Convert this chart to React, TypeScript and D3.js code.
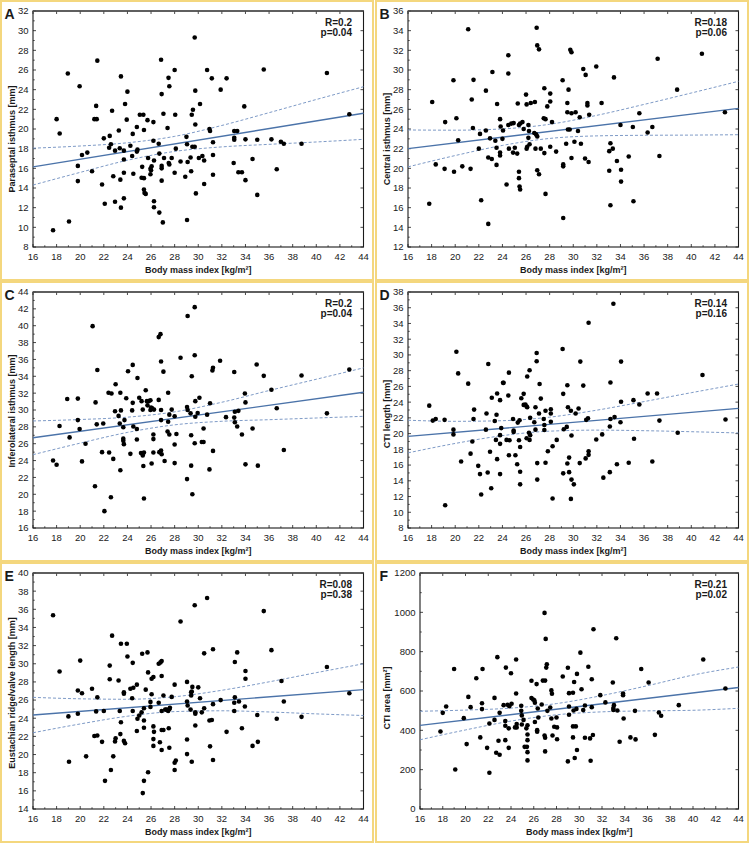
import * as d3 from 'd3';

type Pt = [number, number];

// shared x axis (BMI)
const xTicks = [16, 18, 20, 22, 24, 26, 28, 30, 32, 34, 36, 38, 40, 42, 44];
const bandX = [16, 20, 24, 28, 32, 36, 40, 44];
const xTitle = 'Body mass index [kg/m²]';

// A: paraseptal isthmus
const paraseptal: Pt[] = [[17.7,9.7],[18.0,21.0],[18.26,19.55],[18.95,25.65],[19.05,10.6],[19.8,16.25],[19.8,14.7],[19.95,24.35],[20.15,17.35],[20.6,17.6],[21.0,15.7],[21.35,22.35],[21.2,21.0],[21.4,21.0],[21.45,26.95],[21.85,14.35],[22.0,19.05],[22.08,12.4],[22.45,18.1],[22.5,19.3],[22.6,18.45],[22.7,21.85],[22.8,15.2],[22.95,12.6],[22.95,17.8],[23.27,19.85],[23.35,18.05],[23.4,14.85],[23.45,25.35],[23.45,12.0],[23.7,12.95],[23.7,15.55],[23.7,16.9],[23.7,17.8],[23.8,22.55],[23.94,20.95],[24.0,23.8],[24.25,18.3],[24.4,17.25],[24.45,19.5],[24.5,15.45],[24.8,20.2],[24.8,17.7],[24.85,17.9],[25.05,21.45],[25.25,16.15],[25.2,15.05],[25.35,21.45],[25.4,19.9],[25.4,15.0],[25.4,13.85],[25.45,13.5],[25.55,13.4],[25.7,20.9],[25.75,17.05],[26.0,15.8],[26.05,16.2],[25.95,15.95],[25.95,15.4],[26.2,20.7],[26.2,18.8],[26.25,16.8],[26.25,12.65],[26.25,12.05],[26.65,18.5],[26.7,17.5],[26.7,11.5],[26.85,27.05],[26.9,23.55],[26.9,16.25],[26.9,16.0],[26.9,14.75],[27.0,10.5],[27.05,21.55],[27.1,17.05],[27.4,20.1],[27.48,25.2],[27.55,24.35],[27.5,16.55],[27.55,16.4],[27.75,17.05],[28.0,26.0],[28.05,21.45],[28.1,18.0],[28.0,15.55],[28.5,16.7],[28.9,15.15],[29.0,19.2],[29.05,18.45],[29.1,16.65],[29.05,10.75],[29.35,17.1],[29.4,15.7],[29.45,21.45],[29.5,18.2],[29.55,21.95],[29.7,29.3],[29.7,18.2],[29.75,23.9],[29.75,20.45],[29.8,13.45],[30.05,17.05],[30.15,22.55],[30.35,17.25],[30.5,16.8],[30.5,14.4],[30.75,26.0],[30.95,20.0],[31.0,19.8],[31.15,25.15],[31.25,18.65],[31.25,17.35],[31.25,15.35],[31.9,24.0],[32.4,25.15],[33.0,16.55],[33.05,19.8],[33.05,19.1],[33.05,18.9],[33.3,19.8],[33.4,15.6],[33.7,15.6],[33.9,22.3],[34.0,18.95],[34.0,14.8],[34.6,16.95],[35.0,18.9],[35.0,13.3],[35.55,26.05],[36.2,18.95],[36.65,15.9],[37.0,18.7],[37.25,18.5],[38.75,18.5],[40.9,25.7],[42.8,21.5]];
const paraseptalFit = [16.15, 21.6];
const paraseptalUpper = [18.05, 18.27, 18.6, 19.25, 20.36, 21.66, 23.0, 24.3];
const paraseptalLower = [14.3, 15.59, 16.82, 17.72, 18.18, 18.44, 18.68, 18.95];

// B: central isthmus
const central: Pt[] = [[17.8,16.4],[18.05,26.75],[18.35,20.4],[19.15,24.7],[19.1,19.95],[19.85,28.95],[19.9,19.65],[20.1,25.1],[20.25,22.85],[20.6,20.2],[21.1,34.15],[21.3,19.95],[21.4,27.0],[21.55,29.0],[21.5,24.1],[22.0,22.0],[22.1,23.5],[22.2,16.75],[22.6,27.9],[22.6,23.85],[22.8,14.35],[22.8,21.1],[22.95,23.05],[23.1,20.95],[23.15,29.8],[23.4,22.8],[23.5,22.1],[23.5,20.35],[23.55,26.55],[23.8,21.6],[23.8,21.3],[23.8,25.0],[23.85,24.25],[24.0,23.0],[24.05,23.85],[24.35,18.35],[24.5,31.5],[24.5,29.65],[24.5,24.4],[24.55,22.0],[24.75,24.55],[24.95,24.6],[24.9,21.6],[25.05,22.1],[25.25,21.5],[25.3,26.6],[25.4,24.4],[25.5,24.55],[25.4,19.65],[25.4,19.0],[25.45,18.15],[25.5,17.85],[25.8,24.0],[25.7,24.7],[26.0,27.5],[26.05,26.5],[26.4,26.65],[26.2,24.4],[26.25,23.8],[26.2,23.1],[26.1,22.2],[26.05,22.0],[26.3,22.45],[26.75,26.75],[26.7,23.6],[26.85,23.45],[26.95,23.25],[26.8,22.0],[26.9,34.3],[26.95,32.5],[27.1,32.1],[26.95,19.8],[27.1,19.4],[27.25,22.0],[27.55,28.15],[27.5,25.1],[27.65,25.0],[27.55,21.55],[27.65,17.4],[27.8,26.3],[28.05,27.6],[28.05,26.8],[28.2,24.7],[28.05,22.2],[28.55,21.7],[29.1,28.95],[29.15,20.4],[29.15,20.2],[29.15,14.95],[29.4,22.5],[29.5,26.65],[29.5,25.7],[29.6,28.0],[29.55,23.95],[29.7,23.95],[29.75,32.05],[29.85,31.8],[29.85,25.6],[29.85,21.05],[30.1,22.7],[30.2,25.7],[30.4,23.8],[30.55,25.2],[30.65,22.5],[30.85,30.1],[31.05,29.5],[31.0,21.0],[31.2,26.65],[31.2,26.4],[31.35,25.45],[31.3,20.65],[31.95,30.35],[32.4,26.65],[33.05,21.75],[33.15,22.55],[33.05,19.75],[33.15,16.25],[33.35,22.0],[33.45,29.25],[33.7,20.75],[34.0,24.4],[34.05,19.85],[34.05,18.65],[34.7,21.2],[35.05,24.2],[35.1,16.65],[35.6,25.6],[36.3,23.65],[36.7,24.2],[37.15,31.15],[37.3,21.25],[38.8,28.0],[40.9,31.65],[42.85,25.7]];
const centralFit = [22.0, 26.1];
const centralUpper = [23.9, 23.88, 24.01, 24.48, 25.39, 26.5, 27.66, 28.85];
const centralLower = [20.15, 21.3, 22.33, 23.04, 23.3, 23.36, 23.38, 23.42];

// C: inferolateral isthmus
const inferolateral: Pt[] = [[17.7,24.0],[18.0,23.5],[18.25,28.1],[18.9,31.3],[19.1,26.75],[19.8,31.35],[19.8,28.8],[19.95,27.75],[20.15,23.9],[20.45,26.0],[21.05,39.95],[21.25,20.95],[21.3,30.9],[21.4,28.3],[21.45,34.75],[21.85,25.0],[21.95,28.4],[22.05,18.0],[22.4,32.05],[22.45,24.95],[22.65,31.95],[22.6,19.65],[22.8,24.2],[22.95,29.85],[23.0,33.05],[23.25,29.3],[23.35,28.4],[23.4,32.05],[23.45,29.95],[23.4,22.85],[23.65,26.6],[23.65,26.35],[23.7,25.95],[23.65,27.95],[23.75,28.8],[23.9,31.4],[24.05,34.6],[24.25,24.8],[24.4,29.95],[24.45,30.85],[24.45,35.35],[24.5,28.05],[24.8,27.75],[24.8,26.5],[24.85,33.8],[25.0,31.45],[25.2,31.05],[25.3,30.05],[25.15,24.9],[25.3,24.8],[25.3,24.6],[25.35,23.35],[25.4,19.5],[25.4,24.95],[25.55,32.35],[25.65,31.05],[25.7,30.55],[25.8,31.05],[25.95,31.15],[25.95,30.0],[26.0,30.3],[26.1,30.2],[26.25,30.05],[26.05,23.65],[26.2,27.1],[26.2,26.55],[26.2,24.95],[26.65,31.2],[26.65,38.65],[26.8,39.0],[26.85,35.75],[26.85,30.0],[26.85,28.8],[26.7,25.0],[26.85,25.2],[26.9,24.75],[27.05,34.55],[27.15,23.95],[27.45,32.05],[27.4,27.45],[27.55,29.45],[27.55,27.1],[27.45,28.6],[27.75,30.05],[28.0,29.25],[28.0,25.9],[28.0,23.7],[28.15,27.15],[28.5,36.2],[29.05,30.35],[29.05,21.8],[29.1,41.15],[29.1,30.0],[29.35,29.6],[29.4,27.0],[29.45,34.0],[29.4,23.4],[29.5,20.0],[29.7,42.2],[29.7,26.05],[29.7,36.5],[29.75,29.2],[29.75,31.05],[29.95,29.65],[30.1,31.45],[30.3,26.2],[30.45,26.2],[30.45,27.8],[30.75,29.45],[30.95,22.95],[31.0,30.8],[31.2,34.7],[31.25,35.0],[31.25,25.15],[31.85,35.85],[32.35,29.15],[33.05,34.5],[33.05,29.1],[33.1,29.8],[33.1,28.55],[33.3,28.05],[33.4,29.9],[33.7,27.1],[33.95,31.95],[34.0,30.9],[34.0,23.55],[34.6,27.8],[34.95,35.4],[35.05,23.4],[35.55,34.05],[36.2,32.4],[36.65,30.2],[37.25,25.25],[38.75,34.1],[40.9,29.6],[42.8,34.8]];
const inferolateralFit = [26.7, 32.1];
const inferolateralUpper = [28.7, 28.87, 29.15, 29.78, 30.92, 32.31, 33.65, 35.0];
const inferolateralLower = [24.7, 26.07, 27.34, 28.24, 28.66, 28.85, 29.05, 29.25];

// D: CTI length
const ctiLength: Pt[] = [[17.8,23.55],[18.1,21.65],[18.35,21.85],[19.1,21.75],[19.15,10.9],[19.85,20.5],[19.85,19.9],[20.1,30.4],[20.25,27.65],[20.5,16.45],[21.1,26.35],[21.3,17.45],[21.45,19.0],[21.55,21.85],[21.6,23.05],[21.95,15.9],[22.1,14.85],[22.2,12.25],[22.65,22.55],[22.6,20.5],[22.8,28.85],[22.75,15.05],[22.95,17.7],[23.05,13.05],[23.1,24.55],[23.35,21.6],[23.5,22.4],[23.55,25.1],[23.45,19.2],[23.55,16.75],[23.8,24.25],[23.8,19.8],[23.8,18.7],[23.9,20.7],[23.8,14.85],[24.05,26.45],[24.1,26.45],[24.35,19.2],[24.5,24.85],[24.55,27.75],[24.55,17.25],[24.6,19.15],[24.9,21.85],[24.95,20.4],[24.95,20.2],[25.1,17.25],[25.25,16.1],[25.3,21.4],[25.4,19.15],[25.45,21.7],[25.5,18.3],[25.5,15.15],[25.5,13.55],[25.6,24.5],[25.8,25.05],[25.8,23.65],[25.95,23.7],[26.05,23.45],[26.1,27.25],[26.1,23.35],[26.05,19.4],[26.3,28.05],[26.25,20.1],[26.3,19.2],[26.35,22.0],[26.35,19.8],[26.8,23.35],[26.7,21.45],[26.8,20.5],[26.9,30.25],[26.9,29.2],[26.95,16.25],[26.95,14.15],[27.1,22.55],[27.15,26.3],[27.25,24.45],[27.5,21.85],[27.55,21.1],[27.55,20.45],[27.65,22.9],[27.65,16.3],[27.85,17.75],[28.1,23.1],[28.1,22.55],[28.1,21.5],[28.25,18.4],[28.25,11.75],[28.6,19.2],[29.1,30.75],[29.15,25.05],[29.2,20.55],[29.15,14.95],[29.45,20.85],[29.5,26.15],[29.55,23.35],[29.5,16.2],[29.65,16.95],[29.65,15.1],[29.8,11.7],[29.8,22.9],[29.85,19.75],[29.85,14.15],[30.05,13.55],[30.2,22.55],[30.45,23.2],[30.6,29.15],[30.55,16.25],[30.85,26.1],[31.05,16.85],[31.1,21.75],[31.25,21.95],[31.3,34.1],[31.3,17.75],[31.3,17.3],[31.95,19.25],[32.45,19.9],[32.55,14.4],[33.1,20.9],[33.15,21.85],[33.15,26.5],[33.1,15.1],[33.4,36.5],[33.5,22.1],[33.7,16.1],[34.0,21.45],[34.05,29.15],[34.05,24.05],[34.7,16.3],[35.1,24.25],[35.15,19.35],[35.6,23.7],[36.3,25.1],[36.7,16.45],[37.1,25.1],[37.3,21.65],[38.85,20.1],[40.95,27.45],[42.9,21.8]];
const ctiLengthFit = [19.65, 23.2];
const ctiLengthUpper = [21.7, 21.56, 21.64, 22.09, 22.98, 24.07, 25.2, 26.3];
const ctiLengthLower = [17.55, 18.75, 19.74, 20.31, 20.44, 20.37, 20.24, 20.08];

// E: Eustachian ridge/valve length
const eustachian: Pt[] = [[17.7,35.35],[18.25,29.15],[19.05,19.2],[19.0,24.2],[19.8,27.05],[19.8,24.5],[20.0,30.35],[20.15,26.75],[20.5,19.8],[21.0,27.25],[21.2,22.05],[21.35,24.75],[21.45,22.1],[21.45,26.3],[21.85,21.4],[22.0,24.8],[22.1,17.1],[22.5,29.8],[22.5,28.3],[22.6,18.3],[22.7,33.1],[22.8,19.8],[22.95,21.45],[23.0,21.8],[23.25,28.15],[23.35,24.8],[23.45,23.55],[23.4,22.25],[23.45,32.2],[23.7,26.85],[23.7,26.7],[23.7,21.5],[23.8,21.25],[23.95,32.2],[24.0,30.8],[24.25,27.25],[24.4,26.2],[24.45,24.8],[24.45,30.1],[24.5,27.35],[24.8,27.7],[24.8,22.6],[24.85,23.95],[25.0,24.3],[25.2,24.65],[25.25,31.1],[25.4,25.1],[25.4,23.75],[25.4,22.95],[25.4,17.1],[25.3,15.75],[25.55,27.15],[25.7,31.25],[25.75,29.05],[25.75,18.05],[25.95,25.8],[25.95,25.25],[26.05,26.65],[26.05,28.35],[26.2,28.55],[26.2,23.1],[26.25,22.5],[26.2,21.7],[26.2,20.95],[26.65,30.0],[26.8,30.15],[26.9,30.3],[26.65,25.7],[26.75,21.35],[26.9,28.65],[26.9,24.8],[26.9,22.7],[26.9,20.5],[27.05,22.7],[27.05,26.5],[27.2,24.95],[27.3,24.95],[27.45,24.8],[27.5,22.9],[27.55,25.0],[27.6,25.15],[27.55,20.75],[27.75,26.35],[28.0,27.7],[28.0,19.1],[28.1,19.35],[28.0,18.3],[28.5,34.65],[29.05,28.0],[29.05,25.85],[29.1,25.4],[29.05,21.65],[29.05,20.05],[29.35,24.95],[29.4,26.5],[29.4,26.85],[29.45,26.95],[29.5,27.45],[29.45,19.2],[29.7,36.45],[29.75,24.65],[29.75,24.5],[29.75,23.2],[30.0,27.4],[30.15,26.2],[30.3,24.65],[30.5,25.1],[30.5,31.15],[30.75,37.25],[30.95,23.75],[31.0,20.9],[31.15,23.8],[31.25,25.55],[31.25,31.6],[31.25,19.4],[31.9,26.0],[32.4,22.5],[33.05,25.7],[33.1,26.3],[33.1,30.2],[33.05,24.8],[33.3,31.25],[33.45,25.85],[33.7,22.9],[34.0,29.2],[34.0,28.35],[33.95,25.3],[34.6,20.95],[35.0,24.35],[35.05,21.4],[35.55,35.8],[36.2,31.5],[36.65,23.95],[37.05,28.1],[37.25,25.85],[38.75,24.15],[40.9,29.65],[42.8,26.75]];
const eustachianFit = [24.35, 27.15];
const eustachianUpper = [26.3, 26.14, 26.09, 26.37, 27.08, 28.01, 29.02, 30.0];
const eustachianLower = [22.4, 23.37, 24.22, 24.73, 24.82, 24.69, 24.48, 24.3];

// F: CTI area
const ctiArea: Pt[] = [[17.8,394],[18.0,489],[18.3,521],[19.0,712],[19.1,201],[19.85,462],[20.1,330],[20.25,570],[20.45,518],[20.95,665],[21.3,364],[21.45,538],[21.45,508],[21.5,712],[21.9,311],[22.1,435],[22.1,184],[22.55,565],[22.55,453],[22.7,286],[22.8,772],[22.9,347],[23.0,489],[23.0,276],[23.35,528],[23.5,447],[23.5,423],[23.5,350],[23.55,719],[23.8,410],[23.8,311],[23.7,530],[23.85,523],[24.0,690],[24.05,535],[24.35,415],[24.45,587],[24.45,760],[24.5,432],[24.5,415],[24.9,525],[24.9,499],[24.95,476],[24.95,430],[25.1,453],[25.2,316],[25.35,410],[25.4,316],[25.45,426],[25.45,379],[25.45,350],[25.45,289],[25.45,247],[25.8,652],[25.8,564],[25.95,557],[26.05,553],[26.1,540],[26.1,442],[26.25,635],[26.3,401],[26.3,393],[26.35,511],[26.4,465],[26.7,531],[26.8,653],[26.95,374],[26.95,997],[27.0,653],[27.05,865],[27.0,362],[27.0,293],[27.1,719],[27.15,736],[27.2,499],[27.45,516],[27.55,460],[27.55,603],[27.6,586],[27.65,374],[27.8,418],[28.0,465],[28.05,415],[28.05,355],[28.55,674],[29.0,242],[29.0,718],[29.1,589],[29.1,521],[29.1,479],[29.45,591],[29.45,364],[29.45,420],[29.5,501],[29.55,646],[29.6,259],[29.7,420],[29.75,509],[29.8,300],[29.8,687],[30.1,795],[30.2,609],[30.35,503],[30.5,526],[30.5,362],[30.8,723],[30.95,359],[31.0,245],[31.1,518],[31.1,660],[31.2,376],[31.25,914],[31.85,579],[32.3,542],[32.95,643],[33.0,513],[33.0,504],[33.05,528],[33.25,868],[33.35,501],[33.55,342],[33.85,579],[33.85,587],[33.9,460],[34.5,364],[34.9,499],[34.95,354],[35.45,712],[36.1,643],[36.65,377],[37.0,491],[37.2,474],[38.75,528],[40.9,760],[42.85,613]];
const ctiAreaFit = [425, 618];
const ctiAreaUpper = [497, 503, 513, 536, 577, 627, 681, 722];
const ctiAreaLower = [352, 402, 447, 479, 494, 499, 502, 512];

const panels = [
  { letter: 'A', title: 'Paraseptal isthmus [mm]', domain: [8, 32], ticks: d3.range(8, 33, 2), minor: 1, pts: paraseptal, fit: paraseptalFit, up: paraseptalUpper, lo: paraseptalLower, r: 'R=0.2', p: 'p=0.04', left: 33, titleY: 139 },
  { letter: 'B', title: 'Central isthmus [mm]', domain: [12, 36], ticks: d3.range(12, 37, 2), minor: 1, pts: central, fit: centralFit, up: centralUpper, lo: centralLower, r: 'R=0.18', p: 'p=0.06', left: 33, titleY: 139 },
  { letter: 'C', title: 'Inferolateral isthmus [mm]', domain: [16, 44], ticks: d3.range(16, 45, 2), minor: 1, pts: inferolateral, fit: inferolateralFit, up: inferolateralUpper, lo: inferolateralLower, r: 'R=0.2', p: 'p=0.04', left: 33, titleY: 130 },
  { letter: 'D', title: 'CTI length [mm]', domain: [8, 38], ticks: d3.range(8, 39, 2), minor: 1, pts: ctiLength, fit: ctiLengthFit, up: ctiLengthUpper, lo: ctiLengthLower, r: 'R=0.14', p: 'p=0.16', left: 33, titleY: 133 },
  { letter: 'E', title: 'Eustachian ridge/valve length [mm]', domain: [14, 40], ticks: d3.range(14, 41, 2), minor: 1, pts: eustachian, fit: eustachianFit, up: eustachianUpper, lo: eustachianLower, r: 'R=0.08', p: 'p=0.38', left: 33, titleY: 131 },
  { letter: 'F', title: 'CTI area [mm²]', domain: [0, 1200], ticks: d3.range(0, 1201, 200), minor: 100, pts: ctiArea, fit: ctiAreaFit, up: ctiAreaUpper, lo: ctiAreaLower, r: 'R=0.21', p: 'p=0.02', left: 45, titleY: 136 },
];

const font = 'Arial, "Liberation Sans", sans-serif';
const ink = '#1a1a1a';

function Panel({ cfg, ox, oy }: { cfg: typeof panels[number]; ox: number; oy: number }) {
  const left = ox + cfg.left, right = ox + 363.5, top = oy + 11, bottom = oy + 247;
  const x = d3.scaleLinear().domain([16, 44]).range([left, right]);
  const y = d3.scaleLinear().domain(cfg.domain).range([bottom, top]);
  const band = d3.line<number>().x((_, i) => x(bandX[i])).y(d => y(d)).curve(d3.curveMonotoneX);
  const tl = 3, ml = 1.8;
  const xMinor = xTicks.slice(0, -1).map(t => t + 1);
  const yMinor = cfg.ticks.slice(0, -1).map(t => t + cfg.minor);
  return (
    <g fontFamily={font}>
      <rect x={ox + 1} y={oy + 1} width={372} height={279} fill="none" stroke="#f4d77e" strokeWidth={2} />
      {/* ticks */}
      {xTicks.map(t => (
        <g key={'x' + t}>
          <line x1={x(t)} x2={x(t)} y1={bottom} y2={bottom - tl} stroke={ink} strokeWidth={0.8} />
          <line x1={x(t)} x2={x(t)} y1={top} y2={top + tl} stroke={ink} strokeWidth={0.8} />
          <text x={x(t)} y={bottom + 13} textAnchor="middle" fontSize={9.5} fill={ink}>{t}</text>
        </g>
      ))}
      {xMinor.map(t => (
        <line key={'xm' + t} x1={x(t)} x2={x(t)} y1={bottom} y2={bottom - ml} stroke={ink} strokeWidth={0.7} />
      ))}
      {cfg.ticks.map(t => (
        <g key={'y' + t}>
          <line x1={left} x2={left + tl} y1={y(t)} y2={y(t)} stroke={ink} strokeWidth={0.8} />
          <line x1={right} x2={right - tl} y1={y(t)} y2={y(t)} stroke={ink} strokeWidth={0.8} />
          <text x={left - 4.5} y={y(t) + 3.4} textAnchor="end" fontSize={9.5} fill={ink}>{t}</text>
        </g>
      ))}
      {yMinor.map(t => (
        <line key={'ym' + t} x1={left} x2={left + ml} y1={y(t)} y2={y(t)} stroke={ink} strokeWidth={0.7} />
      ))}
      <rect x={left} y={top} width={right - left} height={bottom - top} fill="none" stroke={ink} strokeWidth={1.1} />
      <line x1={left} x2={right} y1={top} y2={top} stroke="#555" strokeWidth={1.6} />
      {/* regression and confidence band */}
      <path d={band(cfg.up) ?? ''} fill="none" stroke="#6f8fbf" strokeWidth={0.9} strokeDasharray="3,2" />
      <path d={band(cfg.lo) ?? ''} fill="none" stroke="#6f8fbf" strokeWidth={0.9} strokeDasharray="3,2" />
      <line x1={x(16)} x2={x(44)} y1={y(cfg.fit[0])} y2={y(cfg.fit[1])} stroke="#4b73a9" strokeWidth={1.4} />
      {cfg.pts.map((d, i) => (
        <circle key={i} cx={x(d[0])} cy={y(d[1])} r={2.3} fill="#000" />
      ))}
      <text x={ox + 352} y={oy + 26} textAnchor="end" fontSize={10} fontWeight="bold" fill={ink}>{cfg.r}</text>
      <text x={ox + 352} y={oy + 36} textAnchor="end" fontSize={10} fontWeight="bold" fill={ink}>{cfg.p}</text>
      <text x={ox + 4.5} y={oy + 18.5} fontSize={14} fontWeight="bold" fill={ink}>{cfg.letter}</text>
      <text transform={`translate(${ox + 14.5},${oy + cfg.titleY}) rotate(-90)`} textAnchor="middle" fontSize={9} fontWeight="bold" fill={ink}>{cfg.title}</text>
      <text x={(left + right) / 2} y={oy + 272.5} textAnchor="middle" fontSize={9} fontWeight="bold" fill={ink}>{xTitle}</text>
    </g>
  );
}

export default function App() {
  document.body.style.margin = '0';
  return (
    <svg width={750} height={844} style={{ display: 'block', background: '#fff' }}>
      {panels.map((cfg, i) => (
        <Panel key={cfg.letter} cfg={cfg} ox={(i % 2) * 375} oy={Math.floor(i / 2) * 281} />
      ))}
    </svg>
  );
}
